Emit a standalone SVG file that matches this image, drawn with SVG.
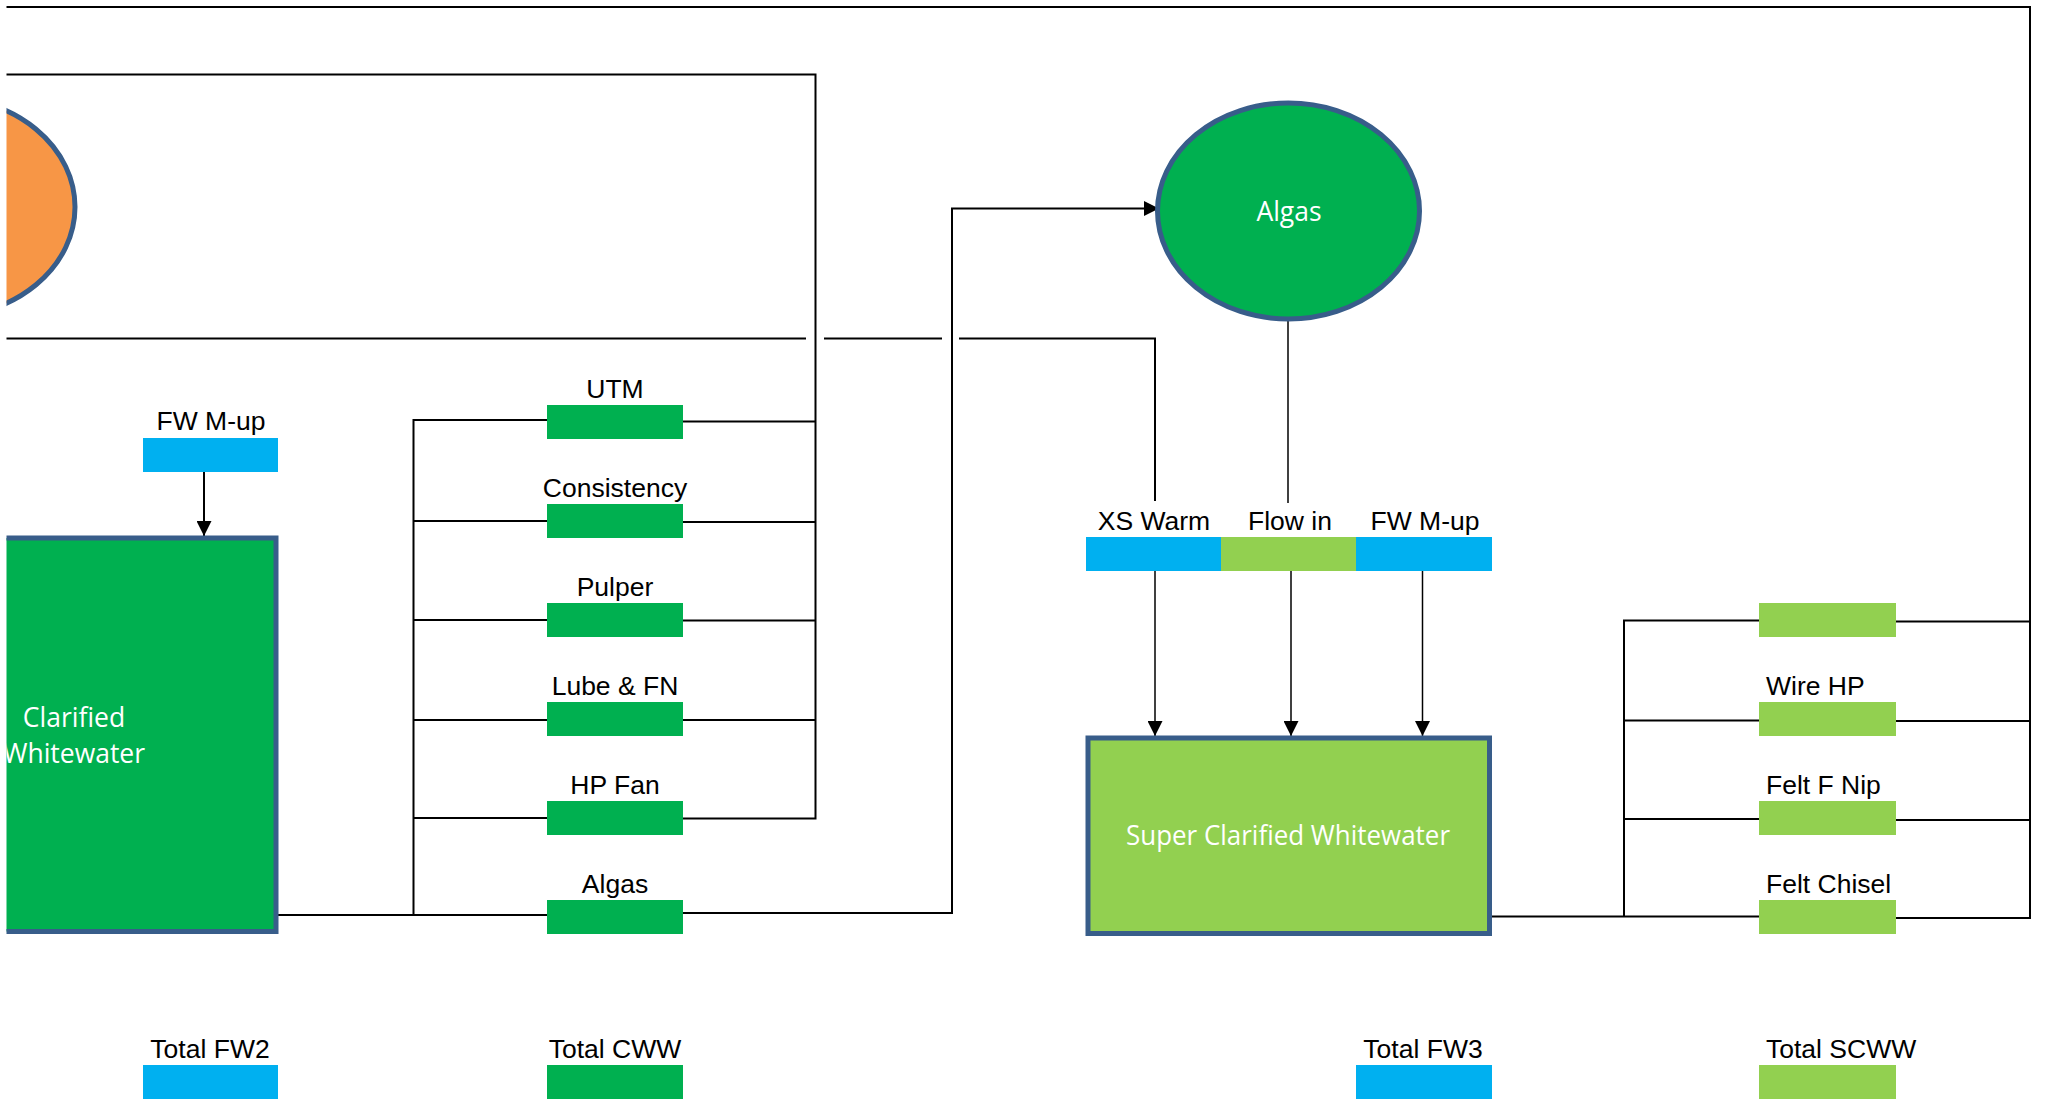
<svg xmlns="http://www.w3.org/2000/svg" width="2045" height="1104" viewBox="0 0 2045 1104">
  <style>
    .wire { fill: none; stroke: #000; stroke-width: 2; }
    .thin { fill: none; stroke: #000; stroke-width: 1.5; }
    .lbl { font-family: "Liberation Sans", Arial, sans-serif; font-size: 26.5px; fill: #000; }
    .mid { text-anchor: middle; }
    .inner { font-family: "Open Sans", "Noto Sans", sans-serif; font-size: 26.5px; fill: #fff; text-anchor: middle; }
    .tank { stroke: #385D8A; stroke-width: 5; }
    .blue { fill: #00B0F0; }
    .green { fill: #00B050; }
    .lime { fill: #92D050; }
    .orange { fill: #F79646; }
  </style>
  <defs>
    <marker id="arrow" markerUnits="userSpaceOnUse" markerWidth="15" markerHeight="15" refX="15" refY="7.5" orient="auto">
      <path d="M0,0 L15,7.5 L0,15 Z" fill="#000"/>
    </marker>
    <clipPath id="page">
      <rect x="6.5" y="0" width="2040" height="1104"/>
    </clipPath>
  </defs>
  <rect width="2045" height="1104" fill="#fff"/>

  <!-- connectors -->
  <g id="connectors">
    <!-- outer loop back from the SCWW header -->
    <path class="wire" d="M6.5,7 H2030 V918 H1896"/>
    <path class="wire" d="M6.5,74.5 H815.5 V818.5 H683"/>
    <!-- line with jumps over the two verticals -->
    <path class="wire" d="M6.5,338.5 H806 M824,338.5 H942 M959,338.5 H1155 V501"/>
    <!-- CWW header -->
    <path class="wire" d="M547,420 H413.5 V915 M683,421.5 H815.5"/>
    <path class="wire" d="M413.5,521 H547 M683,522 H815.5"/>
    <path class="wire" d="M413.5,620 H547 M683,620.5 H815.5"/>
    <path class="wire" d="M413.5,720 H547 M683,720 H815.5"/>
    <path class="wire" d="M413.5,818 H547"/>
    <path class="wire" d="M276,915 H547"/>
    <path class="wire" d="M683,913 H952 V208.5 H1159" marker-end="url(#arrow)"/>
    <!-- FW M-up into clarified tank -->
    <path class="wire" d="M204,472 V536" marker-end="url(#arrow)"/>
    <!-- Algas to flow in -->
    <path class="thin" d="M1288,321 V503"/>
    <!-- feeds into super clarified tank -->
    <path class="thin" d="M1155,571 V736" marker-end="url(#arrow)"/>
    <path class="thin" d="M1291,571 V736" marker-end="url(#arrow)"/>
    <path class="thin" d="M1422.5,571 V736" marker-end="url(#arrow)"/>
    <!-- SCWW header -->
    <path class="wire" d="M1491,916.5 H1759 M1624,916.5 V620.5 H1759"/>
    <path class="wire" d="M1624,720.5 H1759 M1896,721 H2030"/>
    <path class="wire" d="M1624,819 H1759 M1896,820 H2030"/>
    <path class="wire" d="M1896,621.5 H2030"/>
  </g>

  <!-- orange source (partly off the left edge) -->
  <g id="source" clip-path="url(#page)">
    <ellipse class="orange tank" cx="-58" cy="207" rx="133" ry="110"/>
  </g>

  <!-- clarified whitewater tank -->
  <g id="clarified-whitewater" clip-path="url(#page)">
    <rect class="green tank" x="-100" y="538" width="376" height="393.5"/>
    <text class="inner" x="74" y="727">Clarified</text>
    <text class="inner" x="74" y="763">Whitewater</text>
  </g>

  <g id="fw-mup-2">
    <text class="lbl mid" x="211" y="430">FW M-up</text>
    <rect class="blue" x="143" y="438" width="135" height="34"/>
  </g>

  <!-- CWW consumers -->
  <g id="utm">
    <text class="lbl mid" x="615" y="397.5">UTM</text>
    <rect class="green" x="547" y="405" width="136" height="34"/>
  </g>
  <g id="consistency">
    <text class="lbl mid" x="615" y="496.5">Consistency</text>
    <rect class="green" x="547" y="504" width="136" height="34"/>
  </g>
  <g id="pulper">
    <text class="lbl mid" x="615" y="595.5">Pulper</text>
    <rect class="green" x="547" y="603" width="136" height="34"/>
  </g>
  <g id="lube-fn">
    <text class="lbl mid" x="615" y="694.5">Lube &amp; FN</text>
    <rect class="green" x="547" y="702" width="136" height="34"/>
  </g>
  <g id="hp-fan">
    <text class="lbl mid" x="615" y="793.5">HP Fan</text>
    <rect class="green" x="547" y="801" width="136" height="34"/>
  </g>
  <g id="algas-cww">
    <text class="lbl mid" x="615" y="892.5">Algas</text>
    <rect class="green" x="547" y="900" width="136" height="34"/>
  </g>

  <!-- Algas unit -->
  <g id="algas">
    <ellipse class="green tank" cx="1288.5" cy="211" rx="131" ry="108"/>
    <text class="inner" x="1289" y="220.5">Algas</text>
  </g>

  <!-- super clarified inlets -->
  <g id="xs-warm">
    <text class="lbl mid" x="1154" y="530">XS Warm</text>
    <rect class="blue" x="1086" y="537" width="135" height="34"/>
  </g>
  <g id="flow-in">
    <text class="lbl mid" x="1290" y="530">Flow in</text>
    <rect class="lime" x="1221" y="537" width="135" height="34"/>
  </g>
  <g id="fw-mup-3">
    <text class="lbl mid" x="1425" y="530">FW M-up</text>
    <rect class="blue" x="1356" y="537" width="136" height="34"/>
  </g>

  <!-- super clarified whitewater tank -->
  <g id="super-clarified-whitewater">
    <rect class="lime tank" x="1088" y="738" width="401.5" height="195.5"/>
    <text class="inner" x="1288" y="845" textLength="324" lengthAdjust="spacingAndGlyphs">Super Clarified Whitewater</text>
  </g>

  <!-- SCWW consumers -->
  <g id="scww-1">
    <rect class="lime" x="1759" y="603" width="137" height="34"/>
  </g>
  <g id="wire-hp">
    <text class="lbl" x="1766" y="694.5">Wire HP</text>
    <rect class="lime" x="1759" y="702" width="137" height="34"/>
  </g>
  <g id="felt-f-nip">
    <text class="lbl" x="1766" y="793.5">Felt F Nip</text>
    <rect class="lime" x="1759" y="801" width="137" height="34"/>
  </g>
  <g id="felt-chisel">
    <text class="lbl" x="1766" y="892.5">Felt Chisel</text>
    <rect class="lime" x="1759" y="900" width="137" height="34"/>
  </g>

  <!-- totals -->
  <g id="total-fw2">
    <text class="lbl mid" x="210" y="1057.5">Total FW2</text>
    <rect class="blue" x="143" y="1065" width="135" height="34"/>
  </g>
  <g id="total-cww">
    <text class="lbl mid" x="615" y="1057.5">Total CWW</text>
    <rect class="green" x="547" y="1065" width="136" height="34"/>
  </g>
  <g id="total-fw3">
    <text class="lbl mid" x="1423" y="1057.5">Total FW3</text>
    <rect class="blue" x="1356" y="1065" width="136" height="34"/>
  </g>
  <g id="total-scww">
    <text class="lbl" x="1766" y="1057.5">Total SCWW</text>
    <rect class="lime" x="1759" y="1065" width="137" height="34"/>
  </g>
</svg>
